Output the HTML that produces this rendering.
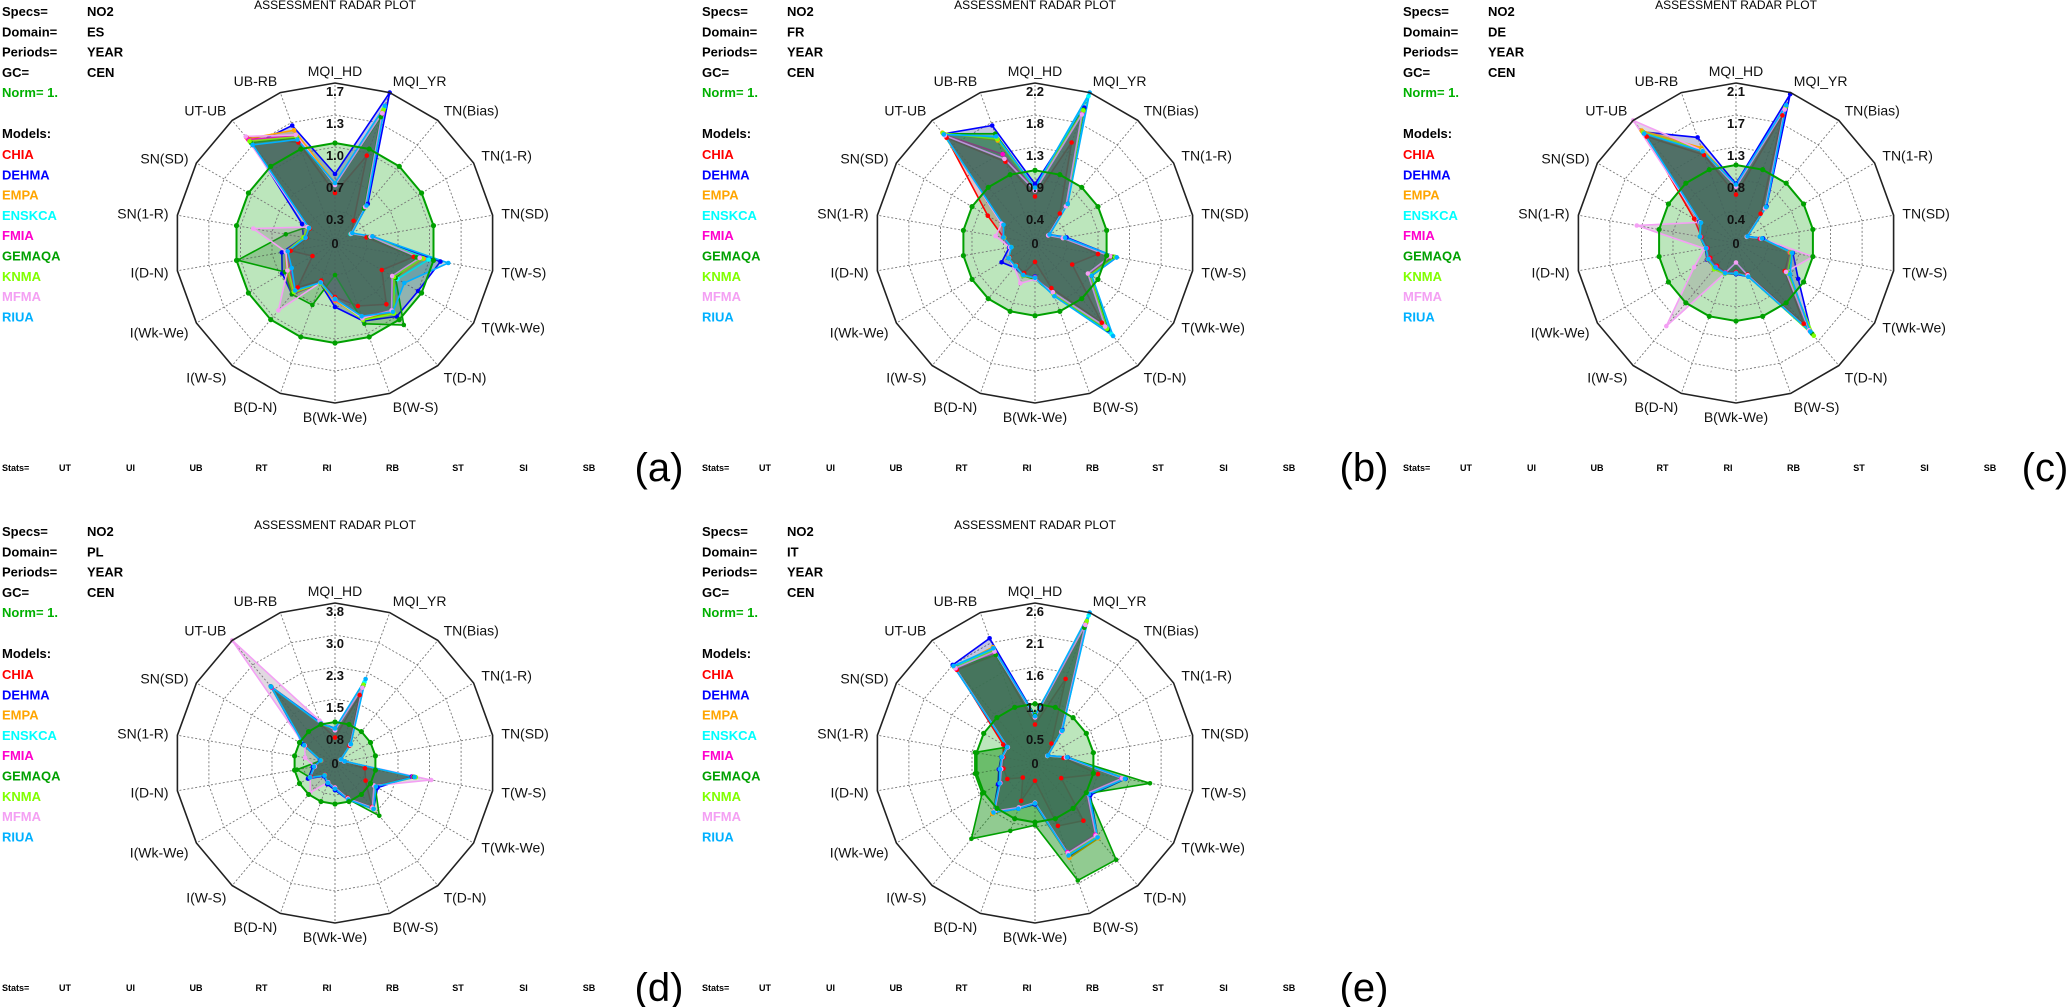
<!DOCTYPE html>
<html><head><meta charset="utf-8"><title>Assessment radar plots</title>
<style>
html,body{margin:0;padding:0;background:#fff;}
svg{display:block;}
text{font-family:"Liberation Sans",sans-serif;}
</style></head>
<body>
<svg id="fig" width="2067" height="1007" viewBox="0 0 2067 1007" xmlns="http://www.w3.org/2000/svg"></svg>
<script>
const axisLabels = ["MQI_HD","MQI_YR","TN(Bias)","TN(1-R)","TN(SD)","T(W-S)","T(Wk-We)","T(D-N)","B(W-S)","B(Wk-We)","B(D-N)","I(W-S)","I(Wk-We)","I(D-N)","SN(1-R)","SN(SD)","UT-UB","UB-RB"];
const modelNames = ["CHIA","DEHMA","EMPA","ENSKCA","FMIA","GEMAQA","KNMA","MFMA","RIUA"];
const modelColors = ["#ff0000","#0000ff","#ffa500","#00ffff","#ff00cc","#00a000","#80ff00","#f4a0f4","#00b0ff"];
const statsLabels = ["UT","UI","UB","RT","RI","RB","ST","SI","SB"];
const panelTags = ["(a)","(b)","(c)","(d)","(e)"];
const domains = ["ES","FR","DE","PL","IT"];
const scaleMax = [1.6, 2.2, 2.05, 3.9, 2.7];
const normValue = 1;
const ES_ticks = ["0.3","0.7","1.0","1.3","1.7"];
const FR_ticks = ["0.4","0.9","1.3","1.8","2.2"];
const DE_ticks = ["0.4","0.8","1.3","1.7","2.1"];
const PL_ticks = ["0.8","1.5","2.3","3.0","3.8"];
const IT_ticks = ["0.5","1.0","1.6","2.1","2.6"];

const ES_CHIA=[0.5,0.93,0.29,0.19,0.32,0.8,0.54,0.8,0.67,0.54,0.4,0.58,0.26,0.45,0.29,0.29,1.38,1.07];
const ES_DEHMA=[0.69,1.6,0.51,0.19,0.38,1.07,0.96,0.96,0.83,0.64,0.43,0.67,0.61,0.54,0.32,0.38,1.28,1.25];
const ES_EMPA=[0.6,1.4,0.48,0.19,0.37,0.9,0.7,0.92,0.8,0.58,0.43,0.66,0.56,0.5,0.32,0.3,1.36,1.2];
const ES_ENSKCA=[0.58,1.44,0.46,0.18,0.36,0.95,0.72,0.88,0.78,0.56,0.42,0.62,0.54,0.5,0.3,0.3,1.3,1.12];
const ES_FMIA=[0.58,1.36,0.47,0.19,0.36,0.86,0.66,0.88,0.78,0.57,0.42,0.63,0.52,0.48,0.31,0.31,1.35,1.14];
const ES_GEMAQA=[0.58,1.34,0.45,0.19,0.35,0.83,0.7,1.07,0.86,0.32,0.66,0.67,0.58,0.99,0.5,0.32,1.31,1.12];
const ES_KNMA=[0.59,1.42,0.47,0.19,0.37,0.88,0.68,0.92,0.82,0.56,0.43,0.64,0.54,0.5,0.32,0.32,1.33,1.13];
const ES_MFMA=[0.58,1.38,0.47,0.19,0.36,0.86,0.66,0.88,0.8,0.56,0.42,0.88,0.55,0.5,0.83,0.32,1.39,1.15];
const ES_RIUA=[0.6,1.46,0.49,0.2,0.38,1.15,0.8,0.9,0.78,0.56,0.42,0.62,0.5,0.48,0.3,0.3,1.28,1.1];

const FR_CHIA=[0.64,1.47,0.53,0.22,0.4,0.88,0.59,1.43,0.66,0.26,0.44,0.4,0.4,0.33,0.44,0.75,1.89,1.19];
const FR_DEHMA=[0.81,1.98,0.7,0.23,0.44,1.14,0.9,1.56,0.77,0.46,0.48,0.44,0.53,0.36,0.44,0.5,1.96,1.72];
const FR_EMPA=[0.76,1.92,0.68,0.22,0.4,1.08,0.86,1.52,0.74,0.48,0.47,0.42,0.42,0.33,0.43,0.51,1.98,1.5];
const FR_ENSKCA=[0.74,2.15,0.69,0.22,0.41,1.12,0.88,1.64,0.76,0.47,0.47,0.41,0.41,0.33,0.44,0.5,1.95,1.55];
const FR_FMIA=[0.73,1.9,0.66,0.21,0.39,1.06,0.85,1.5,0.73,0.47,0.48,0.42,0.42,0.34,0.45,0.52,1.94,1.3];
const FR_GEMAQA=[0.75,1.95,0.68,0.22,0.4,1.1,0.9,1.55,0.75,0.5,0.48,0.42,0.42,0.33,0.44,0.5,1.96,1.6];
const FR_KNMA=[0.75,1.94,0.68,0.22,0.4,1.12,0.88,1.54,0.75,0.48,0.48,0.42,0.42,0.33,0.44,0.51,1.97,1.52];
const FR_MFMA=[0.72,1.88,0.66,0.21,0.39,1.05,0.84,1.5,0.72,0.5,0.59,0.44,0.42,0.35,0.55,0.53,1.93,1.23];
const FR_RIUA=[0.76,2.2,0.7,0.23,0.42,1.14,0.9,1.67,0.78,0.48,0.47,0.42,0.42,0.33,0.44,0.5,1.95,1.56];

const DE_CHIA=[0.62,1.74,0.49,0.16,0.31,0.7,0.72,1.35,0.43,0.37,0.4,0.38,0.38,0.37,0.45,0.62,1.78,1.2];
const DE_DEHMA=[0.76,2.03,0.61,0.17,0.35,0.74,0.92,1.5,0.46,0.4,0.42,0.42,0.43,0.4,0.47,0.54,1.86,1.44];
const DE_EMPA=[0.74,1.84,0.58,0.16,0.33,0.7,0.75,1.46,0.45,0.39,0.41,0.41,0.42,0.39,0.46,0.53,1.88,1.3];
const DE_ENSKCA=[0.73,1.86,0.6,0.16,0.33,0.73,0.78,1.5,0.46,0.38,0.41,0.4,0.41,0.39,0.47,0.52,1.84,1.25];
const DE_FMIA=[0.73,1.82,0.58,0.16,0.32,0.71,0.75,1.47,0.44,0.38,0.4,0.4,0.4,0.38,0.46,0.53,1.85,1.26];
const DE_GEMAQA=[0.74,1.86,0.59,0.16,0.33,0.72,0.77,1.52,0.45,0.39,0.41,0.42,0.41,0.4,0.47,0.53,1.84,1.27];
const DE_KNMA=[0.74,1.85,0.59,0.16,0.33,0.72,0.76,1.55,0.45,0.39,0.42,0.44,0.41,0.39,0.47,0.53,1.85,1.27];
const DE_MFMA=[0.72,1.82,0.58,0.16,0.33,1.0,0.74,1.46,0.44,0.25,0.41,1.39,0.62,0.41,1.29,0.53,2.05,1.26];
const DE_RIUA=[0.75,1.88,0.6,0.17,0.34,0.73,0.8,1.48,0.46,0.39,0.41,0.41,0.41,0.39,0.47,0.52,1.83,1.25];

const PL_CHIA=[0.62,1.76,0.55,0.16,0.22,0.74,0.86,1.4,0.9,0.6,0.5,0.38,0.68,0.5,0.35,0.84,2.4,1.0];
const PL_DEHMA=[0.84,2.05,0.6,0.17,0.24,1.9,1.2,1.46,0.96,0.66,0.55,0.42,0.76,0.55,0.37,0.9,2.44,1.05];
const PL_EMPA=[0.82,2.0,0.59,0.16,0.23,1.98,1.12,1.43,0.94,0.62,0.51,0.39,0.7,0.51,0.35,0.85,2.42,1.01];
const PL_ENSKCA=[0.83,2.1,0.6,0.16,0.23,1.96,1.14,1.45,0.95,0.62,0.5,0.39,0.7,0.51,0.35,0.86,2.43,1.02];
const PL_FMIA=[0.8,1.98,0.58,0.16,0.22,1.92,1.1,1.42,0.92,0.6,0.5,0.38,0.69,0.5,0.34,0.85,2.4,1.0];
const PL_GEMAQA=[0.82,2.0,0.59,0.16,0.23,1.95,1.13,1.68,0.94,0.62,0.51,0.39,0.7,0.94,0.35,0.86,2.42,1.01];
const PL_KNMA=[0.82,2.03,0.59,0.16,0.23,2.0,1.13,1.44,0.94,0.62,0.51,0.39,0.7,0.51,0.35,0.86,2.42,1.01];
const PL_MFMA=[0.8,1.95,0.58,0.16,0.23,2.38,1.1,1.42,0.92,0.6,0.5,0.94,0.7,0.5,0.74,0.85,3.9,1.1];
const PL_RIUA=[0.84,2.18,0.6,0.17,0.24,1.97,1.15,1.46,0.95,0.63,0.51,0.4,0.7,0.52,0.36,0.87,2.42,1.02];

const IT_CHIA=[0.65,1.51,0.43,0.24,0.49,1.08,0.51,1.27,1.13,0.3,0.68,0.32,0.54,0.54,0.54,0.62,2.05,1.94];
const IT_DEHMA=[0.8,2.52,0.72,0.25,0.56,1.55,1.08,1.65,1.68,0.7,0.82,1.1,0.72,0.62,0.58,0.55,2.16,2.24];
const IT_EMPA=[0.78,2.5,0.7,0.24,0.54,1.5,1.02,1.66,1.7,0.68,0.8,1.12,0.68,0.6,0.57,0.54,2.12,2.08];
const IT_ENSKCA=[0.79,2.65,0.71,0.24,0.55,1.53,1.05,1.64,1.66,0.68,0.81,1.08,0.68,0.59,0.57,0.54,2.12,2.05];
const IT_FMIA=[0.77,2.45,0.69,0.24,0.53,1.48,1.0,1.58,1.6,0.67,0.8,1.06,0.67,0.58,0.56,0.53,2.08,1.98];
const IT_GEMAQA=[0.81,2.43,0.7,0.24,0.54,1.97,1.03,2.13,2.11,1.05,1.22,1.67,1.03,1.03,1.03,0.54,2.11,1.94];
const IT_KNMA=[0.78,2.55,0.7,0.24,0.54,1.52,1.03,1.62,1.65,0.68,0.81,1.08,0.68,0.59,0.57,0.54,2.1,2.02];
const IT_MFMA=[0.77,2.48,0.69,0.24,0.53,1.49,1.02,1.6,1.62,0.67,0.8,1.06,0.68,0.58,0.56,0.53,2.09,2.0];
const IT_RIUA=[0.79,2.7,0.71,0.25,0.55,1.54,1.05,1.64,1.66,0.68,0.82,1.09,0.69,0.6,0.57,0.54,2.14,2.06];

const panelSeries = [
  [ES_CHIA,ES_DEHMA,ES_EMPA,ES_ENSKCA,ES_FMIA,ES_GEMAQA,ES_KNMA,ES_MFMA,ES_RIUA],
  [FR_CHIA,FR_DEHMA,FR_EMPA,FR_ENSKCA,FR_FMIA,FR_GEMAQA,FR_KNMA,FR_MFMA,FR_RIUA],
  [DE_CHIA,DE_DEHMA,DE_EMPA,DE_ENSKCA,DE_FMIA,DE_GEMAQA,DE_KNMA,DE_MFMA,DE_RIUA],
  [PL_CHIA,PL_DEHMA,PL_EMPA,PL_ENSKCA,PL_FMIA,PL_GEMAQA,PL_KNMA,PL_MFMA,PL_RIUA],
  [IT_CHIA,IT_DEHMA,IT_EMPA,IT_ENSKCA,IT_FMIA,IT_GEMAQA,IT_KNMA,IT_MFMA,IT_RIUA]
];
const panelTicks = [ES_ticks, FR_ticks, DE_ticks, PL_ticks, IT_ticks];

const NS = "http://www.w3.org/2000/svg";
const svg = document.getElementById("fig");
const origins = [[0,0],[700,0],[1401,0],[0,520],[700,520]];
const tagX = [659,1364,2045,659,1364];
const R = 160;
const N = axisLabels.length;

function mk(tag, attrs, parent){
  const e = document.createElementNS(NS, tag);
  for (const k in attrs) e.setAttribute(k, attrs[k]);
  (parent||svg).appendChild(e);
  return e;
}
function angle(i){ return i * 2 * Math.PI / N; }
function rScale(v, p){ return v / scaleMax[p] * R; }
function pt(cx, cy, r, i){ const a = angle(i); return [cx + r*Math.sin(a), cy - r*Math.cos(a)]; }
function ringPts(cx, cy, r){ const s=[]; for(let i=0;i<N;i++){ const q=pt(cx,cy,r,i); s.push(q[0].toFixed(1)+","+q[1].toFixed(1)); } return s.join(" "); }

for (let p = 0; p < 5; p++){
  const ox = origins[p][0], oy = origins[p][1];
  const cx = ox + 335, cy = oy + 243;
  const g = mk("g", {});
  
  

  const hdr = [["Specs=","NO2"],["Domain=",domains[p]],["Periods=","YEAR"],["GC=","CEN"]];
  hdr.forEach((h, j) => {
    const t1 = mk("text", {x: ox+2, y: oy+16+j*20.3, "font-size":13, "font-weight":"bold", fill:"#000"}, g);
    t1.textContent = h[0];
    
    
    const t2 = mk("text", {x: ox+87, y: oy+16+j*20.3, "font-size":13, "font-weight":"bold", fill:"#000"}, g);
    t2.textContent = h[1];
    
    
  });
  const nt = mk("text", {x: ox+2, y: oy+97, "font-size":13, "font-weight":"bold", fill:"#00b000"}, g);
  nt.textContent = "Norm= 1.";
  
  
  const mt = mk("text", {x: ox+2, y: oy+138, "font-size":13, "font-weight":"bold", fill:"#000"}, g);
  mt.textContent = "Models:";
  
  
  modelNames.forEach((m, j) => {
    const t = mk("text", {x: ox+2, y: oy+159+j*20.3, "font-size":13, "font-weight":"bold", fill: modelColors[j]}, g);
    t.textContent = m;
    
    
  });
  const title = mk("text", {x: cx, y: oy+9, "font-size":12, "text-anchor":"middle", fill:"#000"}, g);
  title.textContent = "ASSESSMENT RADAR PLOT";
  
  

  const sy = oy + 471;
  const st = mk("text", {x: ox+2, y: sy, "font-size":9, "font-weight":"bold", fill:"#000"}, g);
  st.textContent = "Stats=";
  
  
  statsLabels.forEach((s, j) => {
    const t = mk("text", {x: ox+65+j*65.5, y: sy, "font-size":9, "font-weight":"bold", "text-anchor":"middle", fill:"#000"}, g);
    t.textContent = s;
    
    
  });
  const tg = mk("text", {x: tagX[p], y: oy+481, "font-size":40, "text-anchor":"middle", fill:"#000"}, g);
  tg.textContent = panelTags[p];
  
  

  const rn = rScale(normValue, p);
  const np = mk("polygon", {points: ringPts(cx, cy, rn), fill:"#bce6bc", stroke:"none"}, g);
  
  

  for (let k = 1; k <= 4; k++){
    const rg = mk("polygon", {points: ringPts(cx, cy, R*k/5), fill:"none", stroke:"#777", "stroke-width":0.9, "stroke-dasharray":"2,2"}, g);
    
    
  }
  for (let i = 0; i < N; i++){
    const q = pt(cx, cy, R, i);
    const sp = mk("line", {x1: cx, y1: cy, x2: q[0], y2: q[1], stroke:"#777", "stroke-width":0.9, "stroke-dasharray":"2,2"}, g);
    
    
  }

  const series = panelSeries[p];
  series.forEach((vals, m) => {
    const pts = vals.map((v, i) => { const q = pt(cx, cy, rScale(v, p), i); return q[0].toFixed(1)+","+q[1].toFixed(1); }).join(" ");
    const dark = mk("polygon", {points: pts, fill:"#1a301a", "fill-opacity":0.14, stroke:"none"}, g);
    
    
    const poly = mk("polygon", {points: pts, fill: modelColors[m], "fill-opacity": (m===5 && p===4) ? 0.35 : 0.12, stroke: modelColors[m], "stroke-width":1.6}, g);
    
    
  });
  series.forEach((vals, m) => {
    vals.forEach((v, i) => {
      const q = pt(cx, cy, rScale(v, p), i);
      const c = mk("circle", {cx: q[0].toFixed(1), cy: q[1].toFixed(1), r:2.3, fill: modelColors[m]}, g);
      
      
    });
  });

  const no = mk("polygon", {points: ringPts(cx, cy, rn), fill:"none", stroke:"#00a000", "stroke-width":2}, g);
  
  
  for (let i = 0; i < N; i++){
    const q = pt(cx, cy, rn, i);
    const d = mk("circle", {cx: q[0], cy: q[1], r:2.6, fill:"#00a000"}, g);
    
    
  }

  const outer = mk("polygon", {points: ringPts(cx, cy, R), fill:"none", stroke:"#222", "stroke-width":1.6}, g);
  
  

  panelTicks[p].forEach((lab, k) => {
    const t = mk("text", {x: cx, y: cy - R*(k+1)/5 + 13, "font-size":13, "font-weight":"bold", "text-anchor":"middle", fill:"#111"}, g);
    t.textContent = lab;
    
    
  });
  const z = mk("text", {x: cx, y: cy + 5, "font-size":13, "font-weight":"bold", "text-anchor":"middle", fill:"#111"}, g);
  z.textContent = "0";
  
  

  axisLabels.forEach((lab, i) => {
    const a = angle(i), s = Math.sin(a), c = Math.cos(a);
    const q = pt(cx, cy, R + 9, i);
    const anchor = s > 0.3 ? "start" : (s < -0.3 ? "end" : "middle");
    let dy = 5;
    if (c > 0.5) dy = 2; else if (c < -0.5) dy = 10;
    const t = mk("text", {x: q[0].toFixed(1), y: (q[1] + dy).toFixed(1), "font-size":14, "text-anchor": anchor, fill:"#111"}, g);
    t.textContent = lab;
    
    
  });
}
</script>
</body></html>
